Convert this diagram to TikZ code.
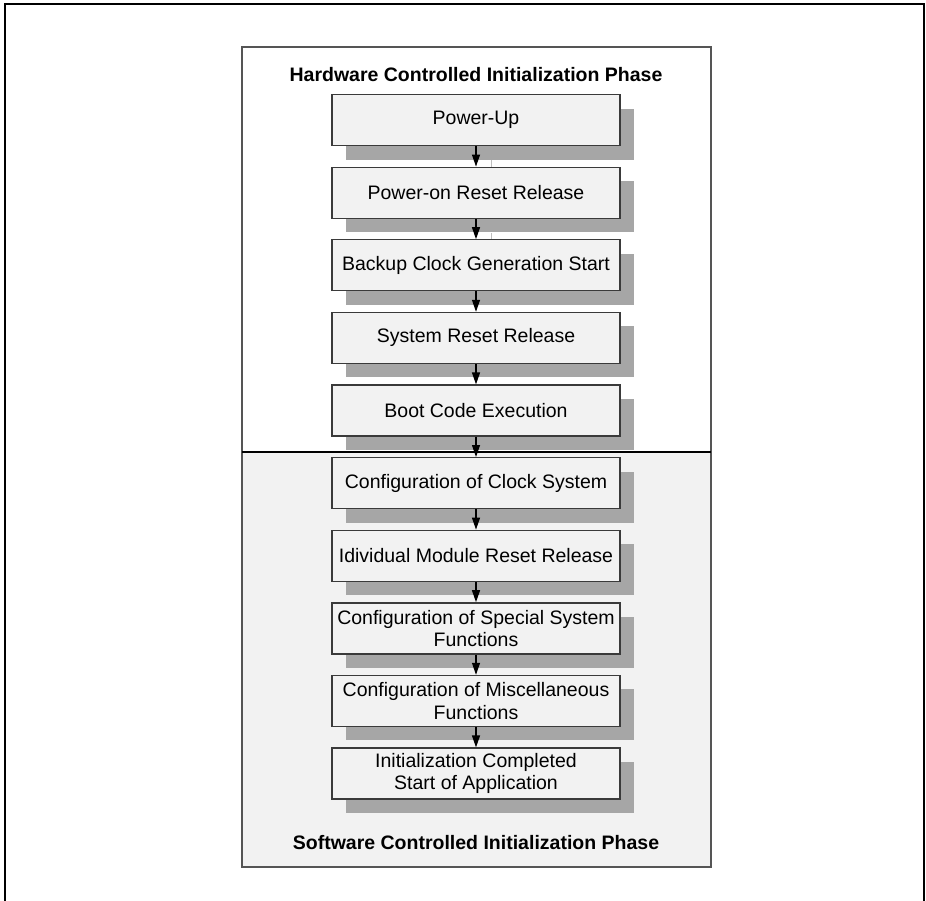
\documentclass[tikz,border=0pt]{standalone}
\usepackage{fontspec}
\setmainfont{Liberation Sans}
\usetikzlibrary{arrows.meta,shadows}
\definecolor{boxfill}{HTML}{F2F2F2}
\definecolor{shadowc}{HTML}{A6A6A6}
\definecolor{boxline}{HTML}{3A3A3A}
\definecolor{panelline}{HTML}{555555}
\tikzset{
  stepbox/.style={draw=boxline, line width=1.3pt, fill=boxfill,
    minimum width=288pt, minimum height=51pt, inner sep=0pt, align=center,
    anchor=north, font=\fontsize{19.5}{22.5}\selectfont,
    general shadow={fill=shadowc, shadow xshift=14pt, shadow yshift=-14pt}},
  flow/.style={line width=1.2pt, -{Triangle[width=8pt,length=12pt]}},
  phasetitle/.style={font=\fontsize{19.5}{22.5}\selectfont\bfseries, inner sep=0pt},
  gapline/.style={draw=black!25, line width=0.8pt}
}
\begin{document}
\begin{tikzpicture}[x=1pt,y=-1pt]
\useasboundingbox (0,0) rectangle (926,901);
% outer frame (open at bottom)
\draw[line width=2.4pt] (5,901) -- (5,4) -- (924,4) -- (924,901);
% panel
\fill[boxfill] (242,452) rectangle (711,867);
\draw[panelline, line width=1.4pt] (242,47) rectangle (711,867);
\draw[line width=1.2pt] (242,452) -- (711,452);
% titles
\node[phasetitle] (hwt) at (476,75) {Hardware Controlled Initialization Phase};
\node[phasetitle] (swt) at (476,843) {Software Controlled Initialization Phase};
% boxes
\node[stepbox] (b0) at (476,94.0) {Power-Up};
\node[stepbox] (b1) at (476,166.6) {Power-on Reset Release};
\node[stepbox] (b2) at (476,239.2) {Backup Clock Generation Start};
\node[stepbox] (b3) at (476,311.8) {System Reset Release};
\node[stepbox] (b4) at (476,384.4) {Boot Code Execution};
\node[stepbox] (b5) at (476,457.0) {Configuration of Clock System};
\node[stepbox] (b6) at (476,529.6) {Idividual Module Reset Release};
\node[stepbox] (b7) at (476,602.2) {Configuration of Special System\\Functions};
\node[stepbox] (b8) at (476,674.8) {Configuration of Miscellaneous\\Functions};
\node[stepbox] (b9) at (476,747.4) {Initialization Completed\\Start of Application};
% faint gap lines
\draw[gapline] ([xshift=15pt,yshift=-14pt]b0.south) -- ([xshift=15pt]b1.north);
\draw[gapline] ([xshift=15pt,yshift=-14pt]b1.south) -- ([xshift=15pt]b2.north);
% arrows
\foreach \a/\b in {b0/b1,b1/b2,b2/b3,b3/b4,b4/b5,b5/b6,b6/b7,b7/b8,b8/b9}
  \draw[flow] (\a.south) -- (\b.north);
\end{tikzpicture}
\end{document}
